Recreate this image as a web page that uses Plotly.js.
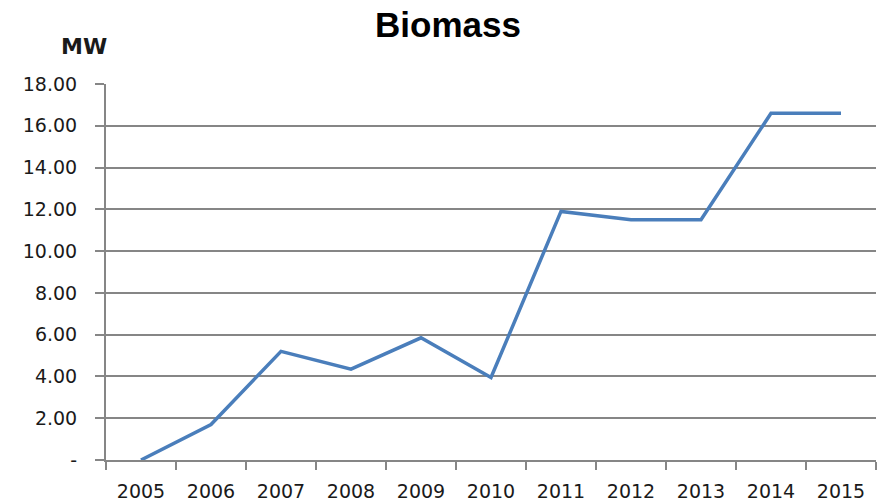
<!DOCTYPE html>
<html>
<head>
<meta charset="utf-8">
<script src="https://cdn.plot.ly/plotly-3.0.1.min.js"></script>
<style>html,body{margin:0;padding:0;background:#fff;}#chart{width:880px;height:504px;}</style>
</head>
<body>
<div id="chart"></div>
<script>
const years = ["2005","2006","2007","2008","2009","2010","2011","2012","2013","2014","2015"];
const biomassMW = [0, 1.7, 5.2, 4.35, 5.85, 3.95, 11.9, 11.5, 11.5, 16.6, 16.6];
const yTickVals = [0, 2, 4, 6, 8, 10, 12, 14, 16, 18];
const yTickText = ["-", "2.00", "4.00", "6.00", "8.00", "10.00", "12.00", "14.00", "16.00", "18.00"];

const gray = "#868686";
const data = [{
  type: "scatter",
  mode: "lines",
  x: years,
  y: biomassMW,
  line: {color: "#4A7EBB", width: 3.5},
  hoverinfo: "skip"
}];

const layout = {
  width: 880, height: 504,
  margin: {l: 106, r: 4, t: 84, b: 44},
  paper_bgcolor: "#fff", plot_bgcolor: "#fff",
  showlegend: false,
  font: {family: "DejaVu Sans, sans-serif", size: 19, color: "#1a1a1a"},
  title: {
    text: "<b>Biomass</b>",
    font: {family: "Liberation Sans, Arial, sans-serif", size: 35, color: "#000"},
    x: 448/880, xref: "container", xanchor: "center",
    y: 1 - 25/504, yref: "container", yanchor: "middle"
  },
  xaxis: {
    type: "category",
    range: [-0.5, 10.5],
    tickson: "boundaries",
    ticks: "outside", ticklen: 8, tickwidth: 2, tickcolor: gray,
    showline: true, linecolor: gray, linewidth: 2,
    showgrid: false, zeroline: false,
    ticklabelstandoff: 13,
    tickfont: {size: 19}
  },
  yaxis: {
    range: [0, 18],
    tickmode: "array", tickvals: yTickVals, ticktext: yTickText,
    ticks: "outside", ticklen: 9, tickwidth: 2, tickcolor: gray,
    showline: true, linecolor: gray, linewidth: 2,
    showgrid: true, gridcolor: gray, gridwidth: 2,
    zeroline: false,
    ticklabelstandoff: 14,
    tickfont: {size: 19}
  },
  annotations: [{
    text: "<b>MW</b>", xref: "paper", yref: "paper",
    x: (84-106)/770, y: 1 + (84-46)/376,
    xanchor: "center", yanchor: "middle", showarrow: false,
    font: {family: "DejaVu Sans, sans-serif", size: 22, color: "#1a1a1a"}
  }]
};

Plotly.newPlot("chart", data, layout, {displayModeBar: false, staticPlot: true});
</script>
</body>
</html>
